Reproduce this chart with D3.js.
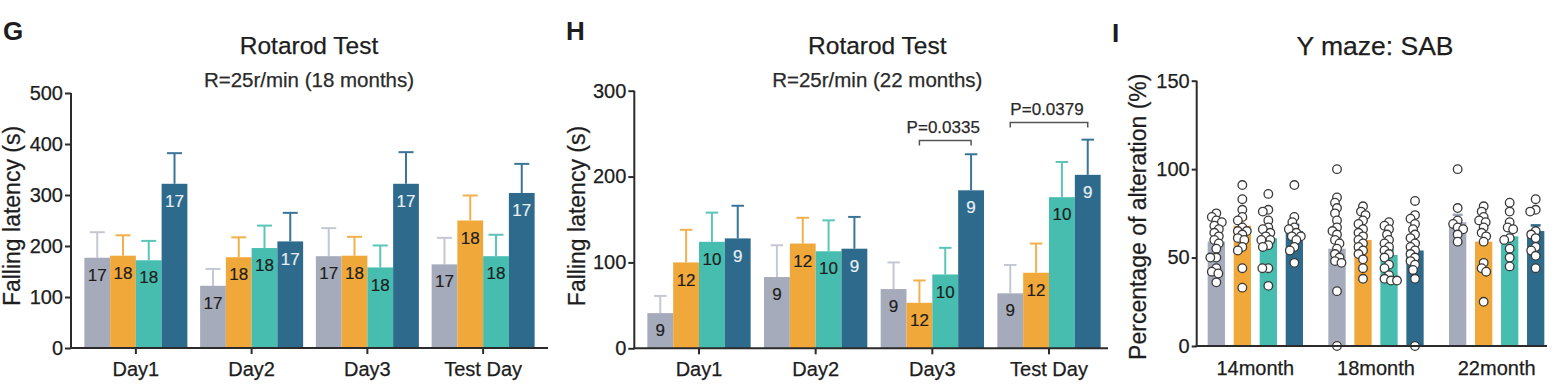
<!DOCTYPE html>
<html><head><meta charset="utf-8">
<script src="https://cdn.jsdelivr.net/npm/d3@7"></script>
<style>body{margin:0;background:#fff}svg{display:block;font-family:"Liberation Sans",Arial,Helvetica,sans-serif}</style>
</head><body><svg id="c" width="1555" height="385"></svg>
<script>
// ---------- data ----------
const series = ["S1","S2","S3","S4"];
const barColors = ["#a6abbb","#f1a83a","#47bdb0","#2e6a8c"];
const errColors = ["#c4c8d2","#f2b04c","#5bc5b8","#3a7599"];

// Panel G: Rotarod 18 months
const daysG = ["Day1","Day2","Day3","Test Day"];
const gMeanS1 = [177,122,180,164];
const gMeanS2 = [181,178,181,250];
const gMeanS3 = [172,196,158,180];
const gMeanS4 = [322,209,322,304];
const gSemS1 = [50,33,55,52];
const gSemS2 = [40,39,37,49];
const gSemS3 = [38,44,43,42];
const gSemS4 = [60,56,62,57];
const gN = [17,18,18,17];
const gTicks = [0,100,200,300,400,500];

// Panel H: Rotarod 22 months
const daysH = ["Day1","Day2","Day3","Test Day"];
const hMeanS1 = [41,83,69,64];
const hMeanS2 = [100,122,53,88];
const hMeanS3 = [124,113,86,176];
const hMeanS4 = [128,116,184,202];
const hSemS1 = [20,37,31,33];
const hSemS2 = [38,30,26,34];
const hSemS3 = [34,36,31,41];
const hSemS4 = [38,37,42,41];
const hN = [9,12,10,9];
const hTicks = [0,100,200,300];
const hPvalDay = ["Day3","Test Day"];
const hPvalText = ["P=0.0335","P=0.0379"];
const hPvalFrom = ["S2","S1"];
const hPvalTo = ["S4","S4"];
const hPvalLevel = [242,263];

// Panel I: Y maze SAB
const agesI = ["14month","18month","22month"];
const iMeanS1 = [59,55,70];
const iMeanS2 = [68,60,59];
const iMeanS3 = [61,51.5,62];
const iMeanS4 = [65,54,65];
const iSemS1 = [2.8,5.5,4.2];
const iSemS2 = [3.9,2.8,4.6];
const iSemS3 = [3.2,2.6,3.6];
const iSemS4 = [3.5,4.4,3.2];
const iDots14 = [
  [75,73,71,70,68,66,64,62,60,58,55,50,50,44,42,41,36],
  [91,83,77,73,71,67,65,65,63,61,60,56,54,44,33],
  [86,77,76,71,67,66,64,62,60,60,57,56,44,44,34],
  [91,73,70,67,66,64,62,62,60,56,54,47]
];
const iDots18 = [
  [100,84,81,78,75,71,67,65,63,60,58,55,52,50,48,47,31,0],
  [79,76,74,71,69,66,64,62,60,58,56,54,52,49,44,38],
  [70,68,66,63,60,58,56,54,52,50,46,44,40,38,37,37],
  [82,74,72,69,66,63,61,58,56,54,52,50,48,46,43,38,0]
];
const iDots22 = [
  [100,78,71,69,67,66,63,59],
  [79,76,73,71,70,67,64,62,59,47,44,42,25],
  [81,76,70,67,66,61,60,55,50,45],
  [83,77,76,65,63,61,56,54,51,44]
];
const iTicks = [0,50,100,150];

// ---------- drawing ----------
const svg = d3.select("#c");
const TXT = "#1d1d1d", AX = "#2b2b2b";

function styleAxis(g, fs){
  g.selectAll("path.domain").remove();
  g.selectAll("line").attr("stroke",AX).attr("stroke-width",2);
  g.selectAll("text").attr("font-size",fs).attr("fill",TXT).attr("font-family",null)
    .attr("stroke",TXT).attr("stroke-width",0.25);
}

function text(x,y,s,fs,opt={}){
  const t = svg.append("text").attr("x",x).attr("y",y).text(s)
    .attr("font-size",fs).attr("fill",opt.fill||TXT).attr("text-anchor",opt.anchor||"middle");
  if(opt.bold) t.attr("font-weight","bold");
  else t.attr("stroke",opt.fill||TXT).attr("stroke-width",0.25);
  if(opt.rot) t.attr("transform",`rotate(-90,${x},${y})`);
  return t;
}

function rotarod(cfg){
  const means = cfg.means, sems = cfg.sems;
  const x0 = d3.scaleBand().domain(cfg.cats).range(cfg.xr).paddingInner(cfg.pi).paddingOuter(cfg.po);
  const x1 = d3.scaleBand().domain(series).range([0,x0.bandwidth()]);
  const y = d3.scaleLinear().domain([0,cfg.ymax]).range(cfg.yr);
  const g = svg.append("g");
  cfg.cats.forEach((c,ci)=>{
    series.forEach((s,si)=>{
      const m = means[si][ci], e = sems[si][ci];
      const bx = x0(c)+x1(s), bw = x1.bandwidth(), cx = bx+bw/2;
      g.append("line").attr("x1",cx).attr("x2",cx).attr("y1",y(m)).attr("y2",y(m+e))
        .attr("stroke",errColors[si]).attr("stroke-width",2);
      g.append("line").attr("x1",cx-cfg.cap/2).attr("x2",cx+cfg.cap/2).attr("y1",y(m+e)).attr("y2",y(m+e))
        .attr("stroke",errColors[si]).attr("stroke-width",2);
      g.append("rect").attr("x",bx).attr("y",y(m)).attr("width",bw).attr("height",y(0)-y(m))
        .attr("fill",barColors[si]);
      const lc = si===3?"#e8f0f5":TXT;
      g.append("text").attr("x",cx).attr("y",y(m)+17).attr("dy","0.36em").attr("text-anchor","middle")
        .attr("font-size",17).attr("fill",lc).attr("stroke",lc).attr("stroke-width",0.2).text(cfg.n[si]);
    });
  });
  // axes
  const ya = svg.append("g").attr("transform",`translate(${cfg.axisX},0)`)
    .call(d3.axisLeft(y).tickValues(cfg.ticks).tickSize(6).tickSizeOuter(0).tickPadding(2));
  styleAxis(ya,20);
  svg.append("line").attr("x1",cfg.axisX).attr("x2",cfg.axisX).attr("y1",y(cfg.ymax)).attr("y2",y(0)+1)
    .attr("stroke",AX).attr("stroke-width",2);
  const xa = svg.append("g").attr("transform",`translate(0,${y(0)})`)
    .call(d3.axisBottom(x0).tickSize(6).tickSizeOuter(0).tickPadding(8));
  styleAxis(xa,20);
  svg.append("line").attr("x1",cfg.axisX-1).attr("x2",cfg.xEnd).attr("y1",y(0)).attr("y2",y(0))
    .attr("stroke",AX).attr("stroke-width",2);
  // p-values
  (cfg.pDay||[]).forEach((d,i)=>{
    const a = x0(d)+x1(cfg.pFrom[i])+x1.bandwidth()/2, b = x0(d)+x1(cfg.pTo[i])+x1.bandwidth()/2;
    const yy = y(cfg.pLevel[i]);
    svg.append("path").attr("d",`M${a},${yy+5}V${yy}H${b}V${yy+5}`).attr("fill","none")
      .attr("stroke","#555").attr("stroke-width",1.5);
    text((a+b)/2-2, yy-7.5, cfg.pText[i], 17, {fill:"#2a2a2a"});
  });
  // titles
  text(cfg.axisX+cfg.titleDx, 54, "Rotarod Test", 24.5);
  text(cfg.axisX+cfg.titleDx, 87, cfg.sub, 20.5, {fill:"#2a2a2a"});
  text(cfg.yTitleX, 216, "Falling latency (s)", 23, {rot:true});
  text(cfg.letterX, 40, cfg.letter, 26, {bold:true, anchor:"start"});
}

rotarod({cats:daysG, means:[gMeanS1,gMeanS2,gMeanS3,gMeanS4], sems:[gSemS1,gSemS2,gSemS3,gSemS4],
  n:gN, ticks:gTicks, ymax:500, xr:[78,541], pi:0.11, po:0.055, yr:[348,93], axisX:71, xEnd:548,
  cap:15, titleDx:238, sub:"R=25r/min (18 months)", yTitleX:20, letterX:3, letter:"G"});

rotarod({cats:daysH, means:[hMeanS1,hMeanS2,hMeanS3,hMeanS4], sems:[hSemS1,hSemS2,hSemS3,hSemS4],
  n:hN, ticks:hTicks, ymax:300, xr:[640.7,1107.3], pi:0.1145, po:0.057, yr:[348.3,90.7], axisX:634.3, xEnd:1108,
  cap:12.5, titleDx:243, sub:"R=25r/min (22 months)", yTitleX:585, letterX:566, letter:"H",
  pDay:hPvalDay, pText:hPvalText, pFrom:hPvalFrom, pTo:hPvalTo, pLevel:hPvalLevel});

// Panel I
(function(){
  const means = [iMeanS1,iMeanS2,iMeanS3,iMeanS4], sems=[iSemS1,iSemS2,iSemS3,iSemS4];
  const dots = [iDots14,iDots18,iDots22];
  const x0 = d3.scaleBand().domain(agesI).range([1195,1557]).paddingInner(0.21).paddingOuter(0.105);
  const x1 = d3.scaleBand().domain(series).range([0,x0.bandwidth()]).paddingInner(0.335).paddingOuter(0);
  const y = d3.scaleLinear().domain([0,150]).range([346,80.7]);
  const r = 4.3;
  agesI.forEach((a,ai)=>{
    series.forEach((s,si)=>{
      const m = means[si][ai], e = sems[si][ai];
      const bx = x0(a)+x1(s), bw = x1.bandwidth(), cx = bx+bw/2;
      svg.append("rect").attr("x",bx).attr("y",y(m)).attr("width",bw).attr("height",y(0)-y(m)).attr("fill",barColors[si]);
      svg.append("line").attr("x1",cx).attr("x2",cx).attr("y1",y(m)).attr("y2",y(m+e)).attr("stroke",barColors[si]).attr("stroke-width",2);
      svg.append("line").attr("x1",cx-5).attr("x2",cx+5).attr("y1",y(m+e)).attr("y2",y(m+e)).attr("stroke",barColors[si]).attr("stroke-width",2.5);
      // dodge layout for dots
      const vals = dots[ai][si];
      const placed = [];
      vals.forEach(v=>{
        const py = y(v);
        let best = 0;
        for(let k=0;k<60;k++){
          const cand = (k%2===0?1:-1)*Math.ceil(k/2)*0.5;
          const ok = placed.every(p=>Math.hypot(p[0]-cand,p[1]-py) >= 2*r-3);
          if(ok){best=cand;break;}
        }
        placed.push([best,py]);
      });
      placed.forEach(p=>{
        svg.append("circle").attr("cx",cx+p[0]).attr("cy",p[1]).attr("r",r)
          .attr("fill","#fff").attr("stroke","#3a3a3a").attr("stroke-width",1.3);
      });
    });
  });
  const ya = svg.append("g").attr("transform","translate(1196.7,0)")
    .call(d3.axisLeft(y).tickValues(iTicks).tickSize(5).tickSizeOuter(0).tickPadding(2));
  styleAxis(ya,20);
  svg.append("line").attr("x1",1196.7).attr("x2",1196.7).attr("y1",y(150)).attr("y2",y(0)+1).attr("stroke",AX).attr("stroke-width",2);
  const xa = svg.append("g").attr("transform",`translate(0,${y(0)})`)
    .call(d3.axisBottom(x0).tickSize(0).tickSizeOuter(0).tickPadding(15));
  styleAxis(xa,20);
  svg.append("line").attr("x1",1195.7).attr("x2",1547).attr("y1",y(0)).attr("y2",y(0)).attr("stroke",AX).attr("stroke-width",2);
  text(1375, 55, "Y maze: SAB", 26.5);
  text(1146, 216.7, "Percentage of alteration (%)", 23, {rot:true});
  text(1112, 42, "I", 26, {bold:true, anchor:"start"});
})();
</script></body></html>
